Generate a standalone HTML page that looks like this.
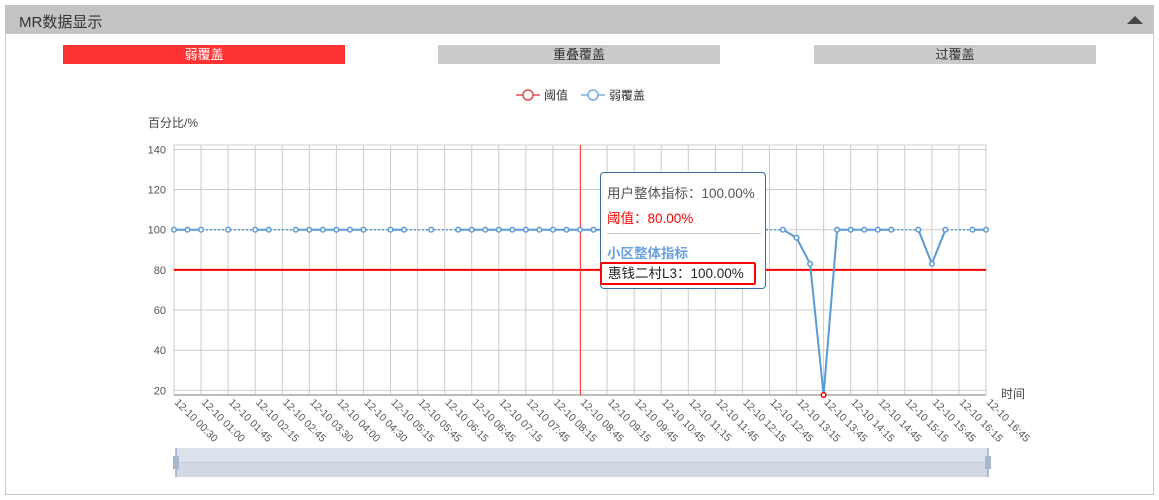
<!DOCTYPE html>
<html><head><meta charset="utf-8">
<style>
body{margin:0;width:1159px;height:500px;background:#fff;font-family:"Liberation Sans","Noto Sans CJK SC",sans-serif;position:relative;overflow:hidden}
.panel{position:absolute;left:5px;top:5px;width:1147px;height:489px;border:1px solid #c8c8c8;border-top:none}
.hdr{position:absolute;left:5px;top:5px;width:1148px;height:29px;background:#c3c3c3}
.hdr span{position:absolute;left:14px;top:6px;font-size:15px;color:#333}
.tri{position:absolute;right:10px;top:11px;width:0;height:0;border-left:8px solid transparent;border-right:8px solid transparent;border-bottom:8px solid #444}
.tab{position:absolute;top:45px;height:19px;width:282px;background:#cbcbcb;color:#333;font-size:13px;text-align:center;line-height:19px}
.tab.on{background:#ff3333;color:#fff}
svg{position:absolute;left:0;top:0}
.tip{position:absolute;left:600px;top:172px;width:164px;height:115px;background:#fff;border:1px solid #3a6ea5;border-radius:4px;font-size:13.5px}
</style></head><body>
<div class="panel"></div>
<div class="hdr"><span>MR数据显示</span><div class="tri"></div></div>
<div class="tab on" style="left:63px">弱覆盖</div>
<div class="tab" style="left:438px">重叠覆盖</div>
<div class="tab" style="left:814px">过覆盖</div>
<svg id="chart" width="1159" height="500"></svg>
<div class="tip">
<div style="position:absolute;left:6px;top:9px;color:#555">用户整体指标：100.00%</div>
<div style="position:absolute;left:6px;top:34px;color:#f00">阈值：80.00%</div>
<div style="position:absolute;left:6px;top:60px;width:154px;border-top:1px solid #ccc"></div>
<div style="position:absolute;left:6px;top:69px;color:#6aa0e0;font-weight:bold">小区整体指标</div>
<div style="position:absolute;left:-1px;top:89px;height:23px;width:156px;border:2px solid #f00;border-radius:2px;color:#222;line-height:19px;padding-left:6px;box-sizing:border-box">惠钱二村L3：100.00%</div>
</div>
<script>
const xLabels=["12-10 00:30","12-10 01:00","12-10 01:45","12-10 02:15","12-10 02:45","12-10 03:30","12-10 04:00","12-10 04:30","12-10 05:15","12-10 05:45","12-10 06:15","12-10 06:45","12-10 07:15","12-10 07:45","12-10 08:15","12-10 08:45","12-10 09:15","12-10 09:45","12-10 10:45","12-10 11:15","12-10 11:45","12-10 12:15","12-10 12:45","12-10 13:15","12-10 13:45","12-10 14:15","12-10 14:45","12-10 15:15","12-10 15:45","12-10 16:15","12-10 16:45"];
const yTicks=[20,40,60,80,100,120,140];
const threshold=80;
const N=61;
const weakIdx=[0,1,2,4,6,7,9,10,11,12,13,14,16,17,19,21,22,23,24,25,26,27,28,29,30,31,32,33,35,36,38,39,40,42,43,45,46,47,48,49,50,51,52,53,55,56,57,59,60];
const weakVals=[100,100,100,100,100,100,100,100,100,100,100,100,100,100,100,100,100,100,100,100,100,100,100,100,100,100,100,100,100,100,100,100,100,100,100,100,96,83,17.7,100,100,100,100,100,100,83,100,100,100];
const NS="http://www.w3.org/2000/svg";
const svg=document.getElementById('chart');
const X0=174,X1=986,YMIN=17.7,YMAX=140;
const xs=i=>X0+i*(X1-X0)/(N-1);
const ys=v=>229.7-(v-100)*2.0083;
const yb=ys(YMIN);
function mk(t,a,p){const e=document.createElementNS(NS,t);for(const k in a)e.setAttribute(k,a[k]);(p||svg).appendChild(e);return e;}
const fr=mk('rect',{x:X0,y:145,width:X1-X0,height:yb-145,fill:'none',stroke:'#ccc'});


yTicks.forEach(v=>{
 const l=mk('line',{x1:X0,x2:X1,y1:ys(v),y2:ys(v),stroke:'#ccc'});
 
 
 const t=mk('text',{x:166,y:ys(v)+4,'text-anchor':'end','font-size':11,fill:'#555'});t.textContent=v;
 
 
});
xLabels.forEach((s,k)=>{
 const x=xs(k*2);
 const l=mk('line',{x1:x,x2:x,y1:145,y2:yb,stroke:'#ccc'});
 
 
 const t=mk('text',{x:x,y:yb+8,'font-size':10.5,fill:'#555',transform:`rotate(45 ${x} ${yb+8})`});t.textContent=s;
 
 
});
const ax=mk('line',{x1:X0,x2:X1,y1:yb,y2:yb,stroke:'#bbb','stroke-width':2});


const th=mk('line',{x1:X0,x2:X1,y1:ys(threshold),y2:ys(threshold),stroke:'#f00','stroke-width':2});


const cu=mk('line',{x1:580.5,x2:580.5,y1:145,y2:yb,stroke:'#f44'});


let dp='';weakIdx.forEach((i,k)=>{dp+=(k?'L':'M')+xs(i)+' '+ys(weakVals[k]);});
const dl=mk('path',{d:dp,fill:'none',stroke:'#5b9bd5','stroke-width':1.5,'stroke-dasharray':'2 2'});


let sp='';
for(let k=1;k<weakIdx.length;k++){if(weakIdx[k]-weakIdx[k-1]===1)sp+=`M${xs(weakIdx[k-1])} ${ys(weakVals[k-1])}L${xs(weakIdx[k])} ${ys(weakVals[k])}`;}
const sl=mk('path',{d:sp,fill:'none',stroke:'#5b9bd5','stroke-width':2});


weakIdx.forEach((i,k)=>{
 const red=weakVals[k]<threshold-40;
 const c=mk('circle',{cx:xs(i),cy:ys(weakVals[k]),r:2.3,fill:'#fff',stroke:red?'#f00':'#5b9bd5','stroke-width':1.5});
 
 
});
const yt=mk('text',{x:148,y:127,'font-size':12,fill:'#444'});yt.textContent='百分比/%';


const xt=mk('text',{x:1001,y:398,'font-size':12,fill:'#444'});xt.textContent='时间';


[[516,'#e05050','阈值'],[581,'#7aaee0','弱覆盖']].forEach(([x,c,s])=>{
 const g=mk('g',{});
 
 
 mk('line',{x1:x,x2:x+24,y1:95,y2:95,stroke:c,'stroke-width':1.5},g);
 mk('circle',{cx:x+12,cy:95,r:5,fill:'#fff',stroke:c,'stroke-width':1.5},g);
 const t=mk('text',{x:x+28,y:99.5,'font-size':12,fill:'#333'},g);t.textContent=s;
});
const sg=mk('g',{});


mk('rect',{x:176,y:448,width:812,height:29,fill:'#d2d9e4'},sg);
mk('rect',{x:176,y:448,width:812,height:14,fill:'#dce2eb'},sg);
mk('line',{x1:176,x2:988,y1:462.5,y2:462.5,stroke:'#c4ccd8'},sg);
[176,988].forEach(x=>{mk('line',{x1:x,x2:x,y1:448,y2:477,stroke:'#9aaccc','stroke-width':1.5},sg);mk('rect',{x:x-3,y:456,width:6,height:13,fill:'#a7b7cc'},sg);});
</script>
</body></html>
